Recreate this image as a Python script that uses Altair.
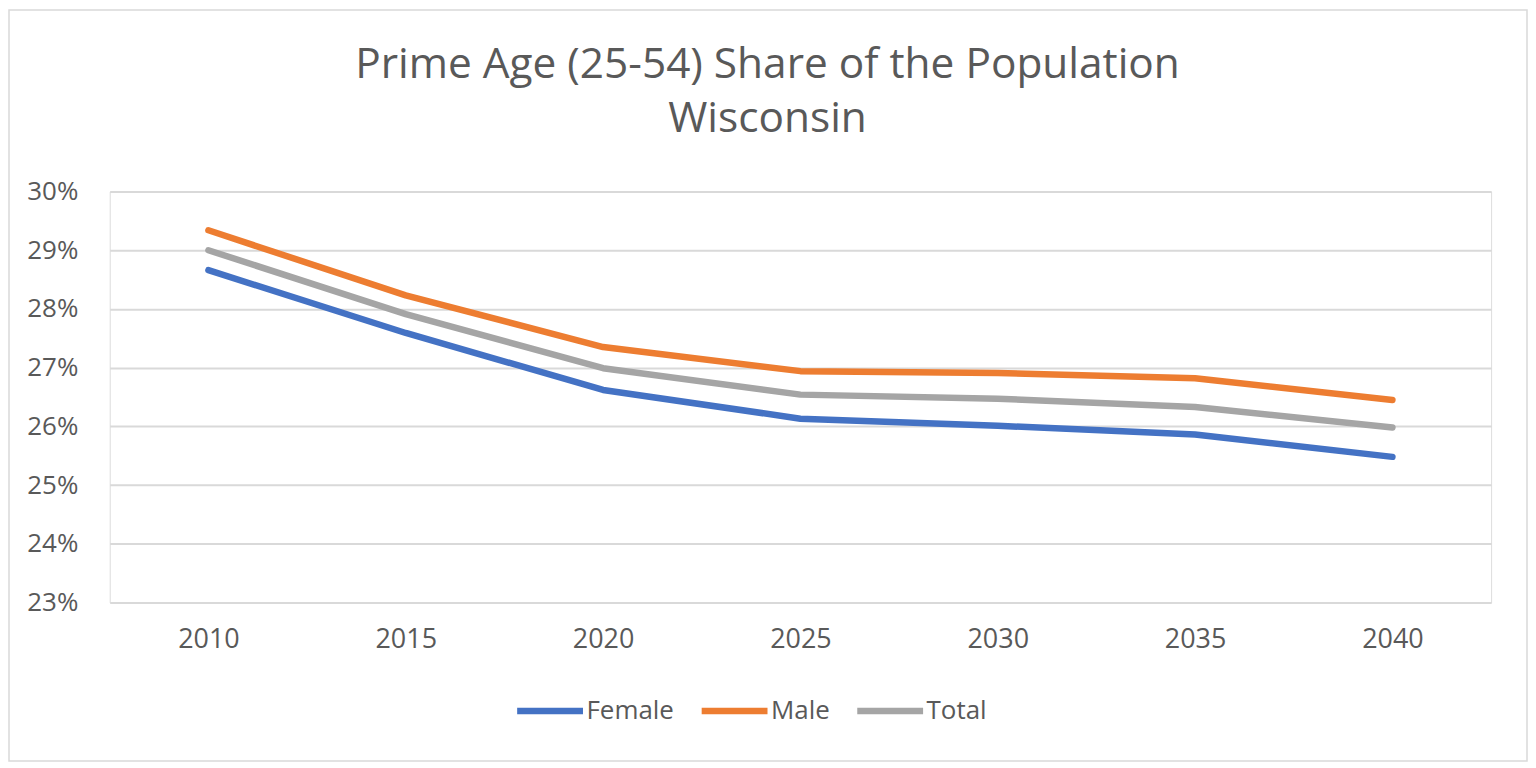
import altair as alt
import pandas as pd

years = ["2010", "2015", "2020", "2025", "2030", "2035", "2040"]
female = [0.2866, 0.2759, 0.2662, 0.2613, 0.2601, 0.2586, 0.2548]
male = [0.2934, 0.2823, 0.2735, 0.2694, 0.2691, 0.2682, 0.2645]
total = [0.2900, 0.2791, 0.2699, 0.2654, 0.2647, 0.2633, 0.2598]
series = ["Female", "Male", "Total"]
colors = ["#4472C4", "#ED7D31", "#A5A5A5"]

rows = []
for name, vals in zip(series, [female, male, total]):
    for y, v in zip(years, vals):
        rows.append({"Year": y, "Share": v, "Series": name})
df = pd.DataFrame(rows)

FONT = "Open Sans"
GREY = "#595959"

lines = alt.Chart(df).mark_line(strokeWidth=6.5, strokeCap="round", strokeJoin="round").encode(
    x=alt.X("Year:N", sort=years, scale=alt.Scale(type="point", padding=0.5),
            axis=alt.Axis(title=None, labelAngle=0, labelFontSize=27, labelColor=GREY,
                          labelFont=FONT, labelPadding=24, domain=False, ticks=False, grid=False)),
    y=alt.Y("Share:Q", scale=alt.Scale(domain=[0.23, 0.30], nice=False, zero=False),
            axis=alt.Axis(title=None, format=".0%", values=[0.23, 0.24, 0.25, 0.26, 0.27, 0.28, 0.29, 0.30],
                          labelFontSize=26, labelColor=GREY, labelFont=FONT, labelPadding=32,
                          domain=False, ticks=False, gridColor="#D9D9D9", gridWidth=2)),
    color=alt.Color("Series:N", scale=alt.Scale(domain=series, range=colors),
                    legend=alt.Legend(title=None, orient="none", direction="horizontal",
                                      legendX=405, legendY=484,
                                      symbolType="stroke", symbolSize=4356, symbolStrokeWidth=6.5,
                                      labelFontSize=26, labelColor=GREY, labelFont=FONT,
                                      labelOffset=0, columnPadding=14)),
)

border = alt.Chart(pd.DataFrame({"a": [0]})).mark_rect(
    fill=None, stroke="#D9D9D9", strokeWidth=1.5
).encode(x=alt.value(-101), x2=alt.value(1421), y=alt.value(-182), y2=alt.value(571))

chart = alt.layer(border, lines).properties(
    width=1385, height=412,
    title=alt.Title(["Prime Age (25-54) Share of the Population", "Wisconsin"],
                    fontSize=42.5, font=FONT, color=GREY, fontWeight="normal",
                    lineHeight=55, anchor="middle", dx=-33, offset=-132),
    padding={"left": 102, "top": 183, "right": 37, "bottom": 160},
    autosize=alt.AutoSizeParams(type="none"),
).configure_view(stroke=None).configure(background="white")

chart.save("out.html", embed_options={"renderer": "svg", "actions": False})
